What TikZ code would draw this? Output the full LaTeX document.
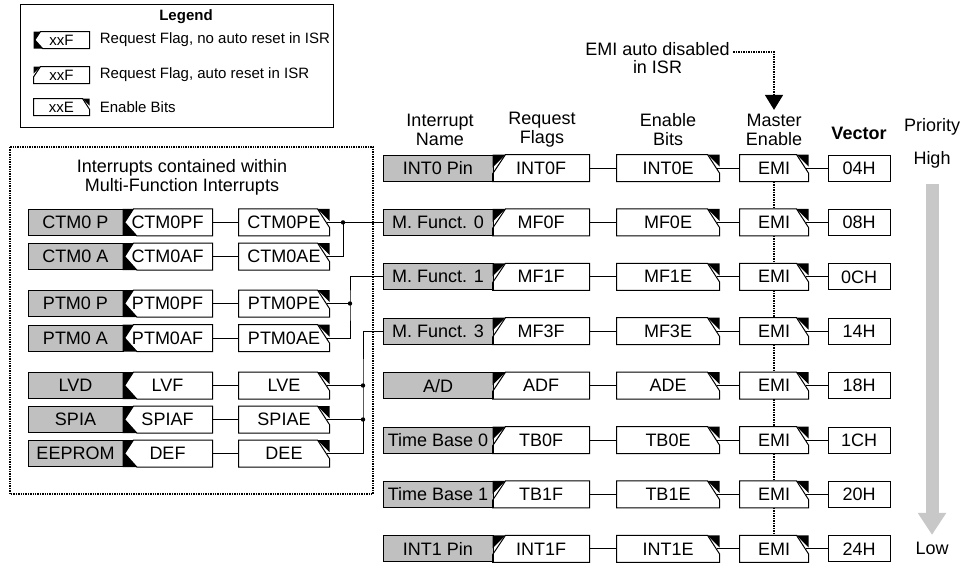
\documentclass[tikz,border=0pt]{standalone}
\usepackage{fontspec}
\setmainfont{Liberation Sans}
\usetikzlibrary{arrows.meta}
\definecolor{namegray}{HTML}{C0C0C0}
\definecolor{priogray}{HTML}{C8C8C8}

\begin{document}
\begin{tikzpicture}[x=1pt,y=-1pt,font=\fontsize{18}{19}\selectfont,line width=1pt,
  namebox/.style={draw,fill=namegray,minimum height=26pt,inner sep=0pt},
  bitbox/.style={minimum height=26pt,inner sep=0pt},
  vecbox/.style={draw,minimum width=62pt,minimum height=26pt,inner sep=0pt},
  hdr/.style={align=center},
  legfont/.style={font=\fontsize{15}{16}\selectfont},
  groupline/.style={line width=1.4pt,dash pattern=on 1.4pt off 1pt},
  emiline/.style={line width=1.5pt,dash pattern=on 1.5pt off 1pt},
  prio/.style={draw=priogray,line width=13pt,-{Triangle[length=22pt,width=27pt]}}]
\path[use as bounding box] (0,0) rectangle (963,562);

% Legend
\draw (20,4) rectangle (333,127);
\node[font=\fontsize{15}{16}\selectfont\bfseries] (leg) at (186,17) {Legend};
\foreach \k/\y/\s/\txt in {1/40/xxF/{Request Flag, no auto reset in ISR},
                          2/75/xxF/{Request Flag, auto reset in ISR},
                          3/107/xxE/Enable Bits}{
  \node[bitbox,legfont,minimum width=55pt,minimum height=16pt] (lg\k) at (61.5,\y) {\s};
  \node[legfont,anchor=west] (lgt\k) at (96,\y) {\txt};
}

% Interrupts hidden behind the multi-function vectors
\draw[groupline] (10,147) rectangle (373,494);
\node[hdr] (mftitle) at (182,177.5) {Interrupts contained within\\Multi-Function Interrupts};
\foreach \i/\y/\nm/\fl/\en in {1/222.4/CTM0 P/CTM0PF/CTM0PE,2/256.5/CTM0 A/CTM0AF/CTM0AE,
    3/303.5/PTM0 P/PTM0PF/PTM0PE,4/338/PTM0 A/PTM0AF/PTM0AE,
    5/385.5/LVD/LVF/LVE,6/419.5/SPIA/SPIAF/SPIAE,7/453.5/EEPROM/DEF/DEE}{
  \node[namebox,minimum width=95pt] (ln\i) at (75.5,\y) {\nm};
  \node[bitbox,minimum width=89pt] (lf\i) at (167.5,\y) {\fl};
  \node[bitbox,minimum width=90pt] (le\i) at (284,\y) {\en};
  \draw (lf\i.east) -- (le\i.west);
}

% Column headings
\node[hdr] (hdrn) at (440,129.5) {Interrupt\\Name};
\node[hdr] (hdrf) at (542,129.5) {Request\\Flags};
\node[hdr] (hdre) at (668,129.5) {Enable\\Bits};
\node[hdr] (hdrm) at (774,129.5) {Master\\Enable};
\node[font=\fontsize{18}{19}\selectfont\bfseries] (hdrv) at (859,133) {Vector};
\node (prio) at (932,127) {Priority};
\node (phigh) at (932,160) {High};
\node (plow) at (932,548) {Low};

% Vector table, one row per interrupt
\foreach \i/\nm/\fl/\en/\vc in {1/INT0 Pin/INT0F/INT0E/04H,2/M. Funct. 0/MF0F/MF0E/08H,
    3/M. Funct. 1/MF1F/MF1E/0CH,4/M. Funct. 3/MF3F/MF3E/14H,5/{A/D}/ADF/ADE/18H,
    6/Time Base 0/TB0F/TB0E/1CH,7/Time Base 1/TB1F/TB1E/20H,8/INT1 Pin/INT1F/INT1E/24H}{
  \pgfmathsetmacro{\yy}{168+54.4*(\i-1)}
  \node[namebox,minimum width=110pt] (n\i) at (438,\yy) {\nm};
  \node[bitbox,minimum width=96pt] (f\i) at (541,\yy) {\fl};
  \node[bitbox,minimum width=102pt] (e\i) at (668,\yy) {\en};
  \node[bitbox,minimum width=68pt] (m\i) at (774,\yy) {EMI};
  \node[vecbox] (v\i) at (859,\yy) {\vc};
  \draw (f\i.east) -- (e\i.west);
  \draw ([xshift=-3pt]e\i.east) -- (m\i.west);
  \draw ([xshift=-3pt]m\i.east) -- (v\i.west);
}

% Flags with no auto reset: dark notches round a left-pointing tip
\foreach \b/\c in {lg1/7,lf1/11,lf2/11,lf3/11,lf4/11,lf5/11,lf6/11,lf7/11}{
  \fill (\b.north west) -- ([xshift=\c pt]\b.north west) -- ([xshift={.2*\c pt}]\b.west)
    -- ([xshift={1.3*\c pt}]\b.south west) -- (\b.south west) -- cycle;
  \draw ([xshift=\c pt]\b.north west) -- (\b.north east) -- (\b.south east)
    -- ([xshift={1.3*\c pt}]\b.south west) -- ([xshift={.2*\c pt}]\b.west) -- cycle;
}
% Flags reset in the ISR: one dark corner, top left
\foreach \b/\c in {lg2/7,f1/13,f2/13,f3/13,f4/13,f5/13,f6/13,f7/13,f8/13}{
  \fill (\b.north west) -- ([xshift=\c pt]\b.north west) -- ([yshift=-\c pt]\b.north west) -- cycle;
  \draw ([xshift=\c pt]\b.north west) -- (\b.north east) -- (\b.south east) -- (\b.south west)
    -- ([yshift={-1.5*\c pt}]\b.north west) -- cycle;
}
% Enable bits: dark corner, top right
\foreach \b/\c in {lg3/7,le1/12,le2/12,le3/12,le4/12,le5/12,le6/12,le7/12,
    e1/12,e2/12,e3/12,e4/12,e5/12,e6/12,e7/12,e8/12,
    m1/12,m2/12,m3/12,m4/12,m5/12,m6/12,m7/12,m8/12}{
  \fill ([xshift=-\c pt]\b.north east) -- (\b.north east) -- ([yshift=-\c pt]\b.north east) -- cycle;
  \draw ([xshift=-\c pt]\b.north east) -- (\b.north west) -- (\b.south west) -- (\b.south east)
    -- ([yshift={-1.55*\c pt}]\b.north east) -- cycle;
}

% Multi-function sources feed their vector rows
\coordinate (j1) at (343,222.4);
\coordinate (j2) at (350,303.5);
\coordinate (j3) at (363,385.5);
\coordinate (j4) at (363,419.5);
\draw ([xshift=-3pt]le1.east) -- (n2.west);
\draw ([xshift=-3pt]le2.east) -| (j1);
\draw ([xshift=-3pt]le3.east) -- (j2);
\draw ([xshift=-3pt]le4.east) -| (j2) |- (n3.west);
\draw ([xshift=-3pt]le5.east) -- (j3);
\draw ([xshift=-3pt]le6.east) -- (j4);
\draw ([xshift=-3pt]le7.east) -| (j3) |- (n4.west);
\foreach \j in {j1,j2,j3,j4} \fill (\j) circle (2.2pt);

% EMI chain
\node (emitxt) at (657.5,49) {EMI auto disabled};
\node (emiisr) at (657.5,67) {in ISR};
\draw[emiline,-{Triangle[length=15pt,width=18pt]}] ([yshift=-3pt]emitxt.east) -| (hdrm.north);
\foreach \i [remember=\i as \prev (initially 1)] in {2,...,8}
  \draw[emiline] (m\prev.south) -- (m\i.north);

% Priority
\draw[prio] ([yshift=-12pt]phigh.south) -- ([yshift=3pt]plow.north);
\end{tikzpicture}
\end{document}
